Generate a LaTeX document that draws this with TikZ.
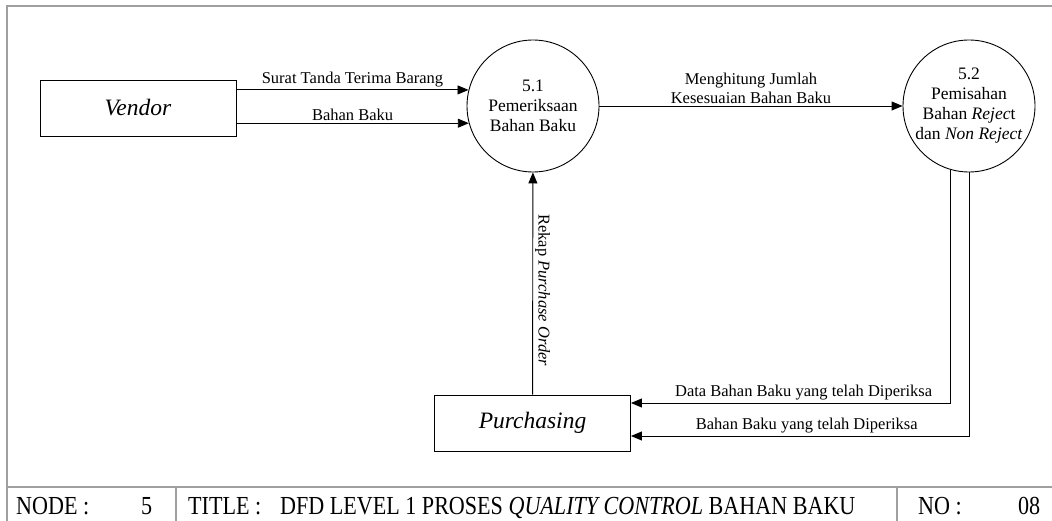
\documentclass[tikz,border=0pt]{standalone}
\usepackage{fontspec}
\setmainfont{Liberation Serif}
\usetikzlibrary{arrows.meta}
\begin{document}
\begin{tikzpicture}[x=1pt,y=-1pt,
  flow/.style={draw, line width=0.9pt, -{Triangle[length=11pt,width=9pt]}},
  entity/.style={draw, line width=0.9pt, minimum width=196pt, minimum height=56pt,
    font=\fontsize{23.5}{26}\selectfont\itshape},
  process/.style={draw, circle, line width=0.9pt, minimum size=132pt, inner sep=0pt,
    align=center, font=\fontsize{17.5}{20}\selectfont},
  lbl/.style={font=\fontsize{16.5}{19}\selectfont, inner sep=2pt},
  frame/.style={draw=gray!75, line width=1.5pt},
  foot/.style={font=\fontsize{26}{28}\selectfont, anchor=base west, inner sep=0pt, xscale=0.85}]
\useasboundingbox (0,0) rectangle (1052,521);
\clip (0,0) rectangle (1052,521);

% sheet frame and footer
\draw[frame] (1060,6) -| (7,530);
\draw[frame] (7,487) -- (1060,487);
\draw[frame] (176,487) -- (176,530);
\draw[frame] (897,487) -- (897,530);
\node[foot] (fnode) at (16,514) {NODE :};
\node[foot] (fnum) at (141,514) {5};
\node[foot] (ftitle) at (188,514) {TITLE :};
\node[foot] (fname) at (280,514) {DFD LEVEL 1 PROSES \textit{QUALITY CONTROL} BAHAN BAKU};
\node[foot] (fno) at (918,514) {NO :};
\node[foot] (fsheet) at (1018,514) {08};

% external entities
\node[entity] (vendor) at (138,108) {Vendor};
\node[entity] (purch) at (532.5,423) {Purchasing};

% processes
\node[process] (p1) at (533,106) {5.1\\Pemeriksaan\\Bahan Baku};
\node[process] (p2) at (969,106) {5.2\\Pemisahan\\Bahan \textit{Rejec}t\\dan \textit{Non Reject}};

% data flows
\draw[flow] (vendor.east |- p1.166.9) -- node[lbl, above] {Surat Tanda Terima Barang} (p1.166.9);
\draw[flow] (vendor.east |- p1.195) -- node[lbl, above] {Bahan Baku} (p1.195);
\draw[flow] (p1.east) -- node[lbl, above, align=center] {Menghitung Jumlah\\Kesesuaian Bahan Baku} (p2.west);
\draw[flow] (purch) -- node[lbl, rotate=-90, anchor=south, pos=0.47] {Rekap \textit{Purchase Order}} (p1);
\draw[flow] (p2.254.2) |- node[lbl, above, pos=0.73] {Data Bahan Baku yang telah Diperiksa} ([yshift=20pt]purch.east);
\draw[flow] (p2.south) |- node[lbl, above, pos=0.74] {Bahan Baku yang telah Diperiksa} ([yshift=-13pt]purch.east);
\end{tikzpicture}
\end{document}
